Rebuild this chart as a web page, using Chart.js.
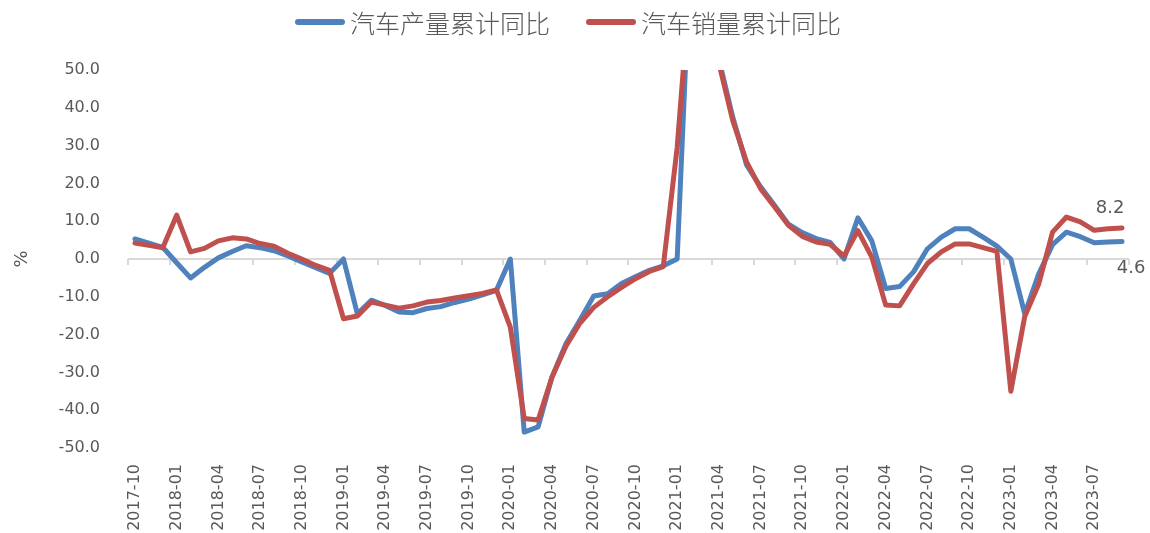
<!DOCTYPE html>
<html>
<head>
<meta charset="utf-8">
<script src="https://cdn.jsdelivr.net/npm/chart.js@4/dist/chart.umd.min.js"></script>
<style>
    html, body { margin: 0; padding: 0; background: #fff; }
    .wrap { position: relative; width: 1150px; height: 533px; }
    .legend {
        position: absolute; top: 8px; left: 0; width: 1150px; height: 28px;
        display: flex; align-items: center; padding-left: 295px; box-sizing: border-box;
        font-family: "Noto Sans CJK SC", sans-serif; font-size: 25px; font-weight: 300; color: #595959;
    }
    .legend .item { display: flex; align-items: center; margin-right: 36px; }
    .legend .swatch { width: 50px; height: 6px; border-radius: 3px; margin-right: 5px; }
</style>
</head>
<body>
<div class="wrap">
    <canvas id="chart" width="1150" height="533"></canvas>
    <div class="legend">
        <div class="item"><span class="swatch" style="background:#4F81BD"></span><span>汽车产量累计同比</span></div>
        <div class="item"><span class="swatch" style="background:#C0504D"></span><span>汽车销量累计同比</span></div>
    </div>
</div>
<script>
// Mois (cumul depuis janvier)
const months = [
    '2017-10','2017-11','2017-12',
    '2018-01','2018-02','2018-03','2018-04','2018-05','2018-06','2018-07','2018-08','2018-09','2018-10','2018-11','2018-12',
    '2019-01','2019-02','2019-03','2019-04','2019-05','2019-06','2019-07','2019-08','2019-09','2019-10','2019-11','2019-12',
    '2020-01','2020-02','2020-03','2020-04','2020-05','2020-06','2020-07','2020-08','2020-09','2020-10','2020-11','2020-12',
    '2021-01','2021-02','2021-03','2021-04','2021-05','2021-06','2021-07','2021-08','2021-09','2021-10','2021-11','2021-12',
    '2022-01','2022-02','2022-03','2022-04','2022-05','2022-06','2022-07','2022-08','2022-09','2022-10','2022-11','2022-12',
    '2023-01','2023-02','2023-03','2023-04','2023-05','2023-06','2023-07','2023-08','2023-09'
];

// 汽车产量累计同比 (%)
const productionYoY = [
    5.3, 4.2, 3.1,
    -1.0, -5.0, -2.2, 0.3, 2.0, 3.5, 3.0, 2.2, 0.8, -0.8, -2.3, -3.8,
    0, -14.5, -10.9, -12.3, -14.0, -14.2, -13.1, -12.6, -11.5, -10.6, -9.5, -8.3,
    0, -45.8, -44.4, -31.2, -22.4, -16.2, -9.8, -9.2, -6.5, -4.7, -3.0, -1.8,
    0, 85.0, 81.7, 52.9, 37.5, 24.8, 19.1, 14.2, 9.2, 7.0, 5.4, 4.4,
    0, 10.9, 4.8, -7.8, -7.3, -3.4, 2.7, 5.8, 8.0, 8.0, 5.8, 3.4,
    0, -14.5, -4.0, 3.8, 7.1, 5.9, 4.3, 4.5, 4.6
];

// 汽车销量累计同比 (%)
const salesYoY = [
    4.2, 3.6, 3.0,
    11.6, 1.9, 2.8, 4.8, 5.6, 5.3, 4.1, 3.4, 1.5, 0.0, -1.7, -3.0,
    -15.8, -15.1, -11.4, -12.2, -13.0, -12.4, -11.4, -11.0, -10.3, -9.7, -9.1, -8.2,
    -18.0, -42.2, -42.6, -31.2, -23.1, -17.0, -12.8, -10.0, -7.5, -5.2, -3.3, -2.0,
    29.5, 76.1, 75.6, 51.8, 36.6, 25.6, 18.6, 13.8, 8.9, 6.0, 4.5, 3.9,
    0.8, 7.5, 0.5, -12.2, -12.4, -6.6, -1.2, 1.9, 4.0, 4.0, 3.0, 2.0,
    -35.0, -15.2, -6.7, 7.1, 11.1, 9.8, 7.6, 8.0, 8.2
];

const yTicks = [-50, -40, -30, -20, -10, 0, 10, 20, 30, 40, 50];

const textColor = '#595959';
const axisFont = { family: 'DejaVu Sans', size: 16 };

// Petites graduations sur la ligne du zéro (toutes les 3 catégories)
const zeroTicks = {
    id: 'zeroTicks',
    beforeDatasetsDraw(chart) {
        const x = chart.scales.x, y = chart.scales.y;
        const ctx = chart.ctx;
        const step = x.getPixelForValue(1) - x.getPixelForValue(0);
        const y0 = y.getPixelForValue(0);
        ctx.save();
        ctx.strokeStyle = '#d9d9d9';
        ctx.lineWidth = 2;
        for (let i = 0; i <= months.length; i += 3) {
            const px = Math.round(x.getPixelForValue(0) - step / 2 + step * i);
            ctx.beginPath();
            ctx.moveTo(px, y0);
            ctx.lineTo(px, y0 + 6);
            ctx.stroke();
        }
        ctx.restore();
    }
};

// Étiquettes de la dernière valeur
const lastLabels = {
    id: 'lastLabels',
    afterDatasetsDraw(chart) {
        const ctx = chart.ctx;
        ctx.save();
        ctx.font = '18px "DejaVu Sans"';
        ctx.fillStyle = textColor;
        ctx.textAlign = 'center';
        ctx.textBaseline = 'middle';
        const last = months.length - 1;
        const red = chart.getDatasetMeta(1).data[last];
        const blue = chart.getDatasetMeta(0).data[last];
        ctx.fillText(salesYoY[last].toFixed(1), red.x - 12, red.y - 20);
        ctx.fillText(productionYoY[last].toFixed(1), blue.x + 9, blue.y + 27);
        ctx.restore();
    }
};

new Chart(document.getElementById('chart'), {
    type: 'line',
    data: {
        labels: months,
        datasets: [{
            label: '汽车产量累计同比',
            data: productionYoY,
            borderColor: '#4F81BD',
            backgroundColor: '#4F81BD',
            order: 1
        }, {
            label: '汽车销量累计同比',
            data: salesYoY,
            borderColor: '#C0504D',
            backgroundColor: '#C0504D',
            order: 0
        }]
    },
    options: {
        responsive: false,
        animation: false,
        events: [],
        layout: { padding: { top: 70, right: 21, left: 0, bottom: 0 } },
        elements: {
            line: { borderWidth: 5, tension: 0, borderJoinStyle: 'round', borderCapStyle: 'round' },
            point: { radius: 0 }
        },
        datasets: { line: { clip: 0 } },
        plugins: {
            legend: { display: false },
            tooltip: { enabled: false }
        },
        scales: {
            x: {
                offset: true,
                grid: { display: false, drawTicks: false },
                border: { display: false },
                ticks: {
                    autoSkip: false,
                    minRotation: 90,
                    maxRotation: 90,
                    padding: 16,
                    color: textColor,
                    font: axisFont,
                    callback: (v, i) => i % 3 === 0 ? months[i] : null
                },
                afterFit: (scale) => { scale.height = 85; }
            },
            y: {
                min: yTicks[0],
                max: yTicks[yTicks.length - 1],
                afterBuildTicks: (scale) => { scale.ticks = yTicks.map(v => ({ value: v })); },
                grid: {
                    drawTicks: false,
                    lineWidth: 2,
                    color: (c) => c.tick && c.tick.value === 0 ? '#d9d9d9' : 'rgba(0,0,0,0)'
                },
                border: { display: false },
                ticks: {
                    padding: 28,
                    color: textColor,
                    font: axisFont,
                    callback: (v) => v.toFixed(1)
                },
                title: {
                    display: true,
                    text: '%',
                    color: textColor,
                    font: { family: 'DejaVu Sans', size: 18 },
                    padding: { top: 12, bottom: 0 }
                },
                afterFit: (scale) => { scale.width = 128; }
            }
        }
    },
    plugins: [zeroTicks, lastLabels]
});
</script>
</body>
</html>
